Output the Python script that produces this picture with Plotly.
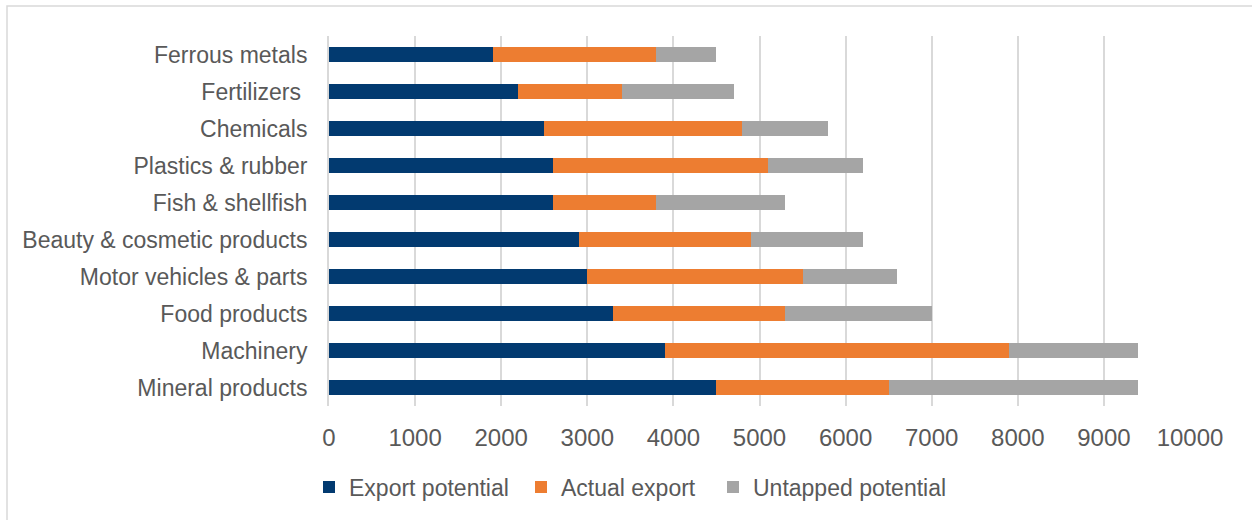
import plotly.graph_objects as go

categories = ["Mineral products", "Machinery", "Food products", "Motor vehicles & parts",
              "Beauty & cosmetic products", "Fish & shellfish", "Plastics & rubber",
              "Chemicals", "Fertilizers ", "Ferrous metals"]
export_potential = [4500, 3900, 3300, 3000, 2900, 2600, 2600, 2500, 2200, 1900]
actual_export = [2000, 4000, 2000, 2500, 2000, 1200, 2500, 2300, 1200, 1900]
untapped_potential = [2900, 1500, 1700, 1100, 1300, 1500, 1100, 1000, 1300, 700]
x_ticks = [0, 1000, 2000, 3000, 4000, 5000, 6000, 7000, 8000, 9000, 10000]

series = [
    ("Export potential", export_potential, "#023A70", "legend"),
    ("Actual export", actual_export, "#ED7D31", "legend2"),
    ("Untapped potential", untapped_potential, "#A5A5A5", "legend3"),
]

FONT = "Liberation Sans, Arial, sans-serif"
TXT = "#595959"

fig = go.Figure()
for name, vals, col, lg in series:
    fig.add_trace(go.Bar(y=categories, x=vals, name=name, orientation="h", legend=lg,
                         marker=dict(color=col, line=dict(width=0))))

W, H = 1252, 520
L, R, T, B = 329, 62, 36, 114
pw, ph = W - L - R, H - T - B

def px_x(p):
    return (p - L) / pw

def px_y(p):
    return (H - B - p) / ph

def legend_at(xpix):
    return dict(orientation="h", x=px_x(xpix), xanchor="left",
                y=px_y(487), yanchor="middle",
                font=dict(family=FONT, size=23, color=TXT),
                bgcolor="rgba(0,0,0,0)")

fig.update_layout(
    width=W, height=H,
    barmode="stack", bargap=0.595,
    margin=dict(l=L, r=R, t=T, b=B, pad=0),
    paper_bgcolor="white", plot_bgcolor="white",
    font=dict(family=FONT, size=23, color=TXT),
    showlegend=True,
    legend=legend_at(309),
    legend2=legend_at(521),
    legend3=legend_at(713),
    xaxis=dict(range=[0, 10000], tickvals=x_ticks, ticktext=[str(v) for v in x_ticks],
               showgrid=True, gridcolor="#D9D9D9", gridwidth=2,
               zeroline=False, showline=False, ticks="",
               ticklabelstandoff=15,
               tickfont=dict(family=FONT, size=24, color=TXT), fixedrange=True),
    yaxis=dict(showgrid=False, zeroline=False, showline=True, linecolor="#D9D9D9",
               linewidth=2, ticks="", ticklabelstandoff=15,
               tickfont=dict(family=FONT, size=23, color=TXT),
               categoryorder="array", categoryarray=categories, fixedrange=True),
    shapes=[dict(type="rect", xref="paper", yref="paper",
                 x0=px_x(7), x1=px_x(1262), y0=px_y(530), y1=px_y(6),
                 line=dict(color="#D9D9D9", width=1.5), fillcolor="rgba(0,0,0,0)",
                 layer="below")],
)

fig.write_html("out.html")
